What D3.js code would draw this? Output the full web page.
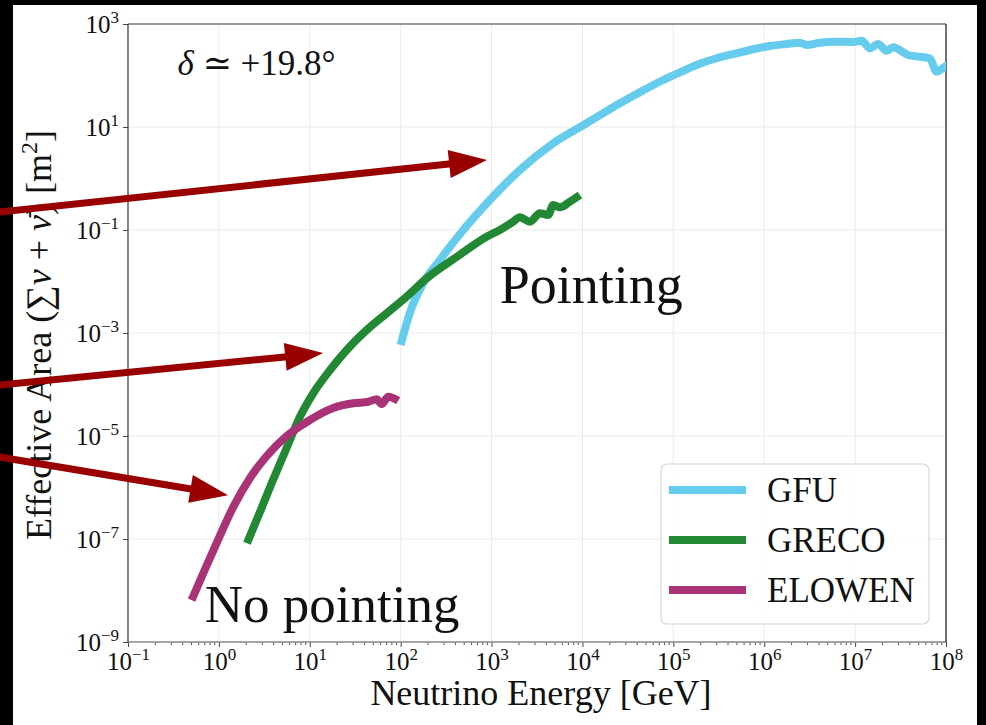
<!DOCTYPE html>
<html>
<head>
<meta charset="utf-8">
<script src="https://cdn.jsdelivr.net/npm/d3@7"></script>
<style>
  body { margin: 0; background: #000; }
  svg { display: block; }
</style>
</head>
<body>
<svg id="chart" width="986" height="725"></svg>
<script>
// energies in GeV, effective areas in m^2
var gfuEnergy = [100, 126, 177, 270, 488, 959, 2050, 4770, 1.11e4, 2.58e4, 3.94e4, 7.74e4, 1.18e5, 1.80e5,
  2.99e5, 4.97e5, 7.57e5, 1.15e6, 1.76e6, 2.47e6, 2.92e6, 4.09e6, 6.25e6, 9.51e6, 1.18e7, 1.45e7, 1.79e7,
  2.22e7, 2.62e7, 3.83e7, 6.64e7, 7.87e7, 9.7e7, 1.05e8];
var gfuArea = [5.85e-4, 2.44e-3, 9.2e-3, 2.61e-2, 0.100, 0.383, 1.46, 4.84, 11.8, 28.8, 43.7, 81.8, 115, 160,
  216, 270, 323, 374, 409, 434, 391, 434, 453, 447, 474, 337, 409,
  303, 353, 250, 216, 119, 148, 160];

var grecoEnergy = [2.04, 2.83, 3.94, 5.33, 7.80, 10.9, 16.7, 25.5, 42.3, 70.1, 116, 193, 416, 883,
  1236, 1734, 2051, 2642, 3404, 4198, 4764, 5649, 7278, 9376];
var grecoArea = [8.3e-8, 3.34e-7, 1.40e-6, 4.89e-6, 2.37e-5, 6.75e-5, 1.91e-4, 4.68e-4, 1.14e-3, 2.41e-3,
  5.07e-3, 1.15e-2, 3.02e-2, 7.41e-2, 0.100, 0.145, 0.177, 0.145, 0.211, 0.195, 0.305, 0.276, 0.355, 0.479];

var elowenEnergy = [0.501, 0.673, 0.946, 1.44, 2.20, 3.36, 5.57, 9.25, 18.1, 30.1, 44.0, 54.4, 61.8, 73.0, 94.0];
var elowenArea = [6.5e-9, 2.16e-8, 8.4e-8, 4.18e-7, 1.53e-6, 4.09e-6, 1.0e-5, 1.87e-5, 3.5e-5, 4.31e-5,
  4.63e-5, 5.16e-5, 4.18e-5, 5.79e-5, 4.85e-5];

var seriesNames = ["GFU", "GRECO", "ELOWEN"];
var seriesColors = ["#66CCEE", "#228833", "#AA3377"];

var xTickValues = [1e-1, 1e0, 1e1, 1e2, 1e3, 1e4, 1e5, 1e6, 1e7, 1e8];
var xTickExps = ["−1", "0", "1", "2", "3", "4", "5", "6", "7", "8"];
var yTickValues = [1e3, 1e1, 1e-1, 1e-3, 1e-5, 1e-7, 1e-9];
var yTickExps = ["3", "1", "−1", "−3", "−5", "−7", "−9"];

// annotation arrows: [tailEnergy, tailArea, tipEnergy, tipArea]
var arrows = [
  [2.0e-3, 0.197, 891, 2.29],
  [2.0e-3, 8.7e-5, 14.0, 4.07e-4],
  [2.0e-3, 4.74e-6, 1.26, 7.1e-7]
];
var annotations = [
  { text: "Pointing", energy: 1.23e3, area: 3.8e-3, size: 54 },
  { text: "No pointing", energy: 0.70, area: 2.45e-9, size: 53 }
];

var margin = { top: 24, right: 40, bottom: 83, left: 128 };
var width = 986 - margin.left - margin.right,
    height = 725 - margin.top - margin.bottom;
var font = "'Liberation Serif', 'DejaVu Serif', serif";

var svg = d3.select("#chart");
svg.append("rect").attr("x", 13).attr("y", 5).attr("width", 964).attr("height", 720).attr("fill", "#fff");

var g = svg.append("g").attr("transform", "translate(" + margin.left + "," + margin.top + ")");

var x = d3.scaleLog().domain([1e-1, 1e8]).range([0, width]);
var y = d3.scaleLog().domain([1e-9, 1e3]).range([height, 0]);

// grid
g.append("g").selectAll("line").data(xTickValues.slice(1, -1)).join("line")
  .attr("x1", d => x(d)).attr("x2", d => x(d)).attr("y1", 0).attr("y2", height)
  .attr("stroke", "#ebebeb").attr("stroke-width", 1);
g.append("g").selectAll("line").data(yTickValues.slice(1, -1)).join("line")
  .attr("x1", 0).attr("x2", width).attr("y1", d => y(d)).attr("y2", d => y(d))
  .attr("stroke", "#ebebeb").attr("stroke-width", 1);

// minor x ticks
var minorX = [];
for (var e = -1; e < 8; e++) {
  for (var m = 2; m < 10; m++) minorX.push(m * Math.pow(10, e));
}
g.append("g").selectAll("line").data(minorX).join("line")
  .attr("x1", d => x(d)).attr("x2", d => x(d)).attr("y1", height).attr("y2", height + 3)
  .attr("stroke", "#555").attr("stroke-width", 1);

// axes
var xAxis = g.append("g").attr("transform", "translate(0," + height + ")")
  .call(d3.axisBottom(x).tickValues(xTickValues).tickSize(5).tickPadding(6).tickFormat(""));
var yAxis = g.append("g")
  .call(d3.axisLeft(y).tickValues(yTickValues).tickSize(5).tickPadding(4).tickFormat(""));
xAxis.select(".domain").remove();
yAxis.select(".domain").remove();
xAxis.selectAll(".tick line").attr("stroke", "#444");
yAxis.selectAll(".tick line").attr("stroke", "#444");

xAxis.selectAll(".tick text").each(function (d, i) {
  var t = d3.select(this).attr("font-family", font).attr("font-size", 25).attr("fill", "#111")
    .attr("y", 28).attr("dy", 0);
  t.append("tspan").text("10");
  t.append("tspan").attr("dy", -10).attr("font-size", 17).text(xTickExps[i]);
});
yAxis.selectAll(".tick text").each(function (d, i) {
  var t = d3.select(this).attr("font-family", font).attr("font-size", 25).attr("fill", "#111")
    .attr("dy", 8);
  t.append("tspan").text("10");
  t.append("tspan").attr("dy", -10).attr("font-size", 17).text(yTickExps[i]);
});

// spines
g.append("line").attr("x1", 0).attr("x2", width).attr("y1", 0).attr("y2", 0).attr("stroke", "#777").attr("stroke-width", 1.6);
g.append("line").attr("x1", 0).attr("x2", width).attr("y1", height).attr("y2", height).attr("stroke", "#888").attr("stroke-width", 1.6);
g.append("line").attr("x1", 0).attr("x2", 0).attr("y1", 0).attr("y2", height).attr("stroke", "#333").attr("stroke-width", 1.2);
g.append("line").attr("x1", width).attr("x2", width).attr("y1", 0).attr("y2", height).attr("stroke", "#111").attr("stroke-width", 1.2);

// curves
svg.append("defs").append("clipPath").attr("id", "plotclip")
  .append("rect").attr("width", width).attr("height", height);

var seriesData = [
  d3.zip(gfuEnergy, gfuArea),
  d3.zip(grecoEnergy, grecoArea),
  d3.zip(elowenEnergy, elowenArea)
];
var line = d3.line().x(d => x(d[0])).y(d => y(d[1])).curve(d3.curveMonotoneX);
g.append("g").attr("clip-path", "url(#plotclip)")
  .selectAll("path").data(seriesData).join("path")
  .attr("d", line)
  .attr("fill", "none")
  .attr("stroke", (d, i) => seriesColors[i])
  .attr("stroke-width", 8)
  .attr("stroke-linejoin", "round")
  .attr("stroke-linecap", "butt");

// declination label
var dl = g.append("text").attr("x", x(0.35)).attr("y", y(102))
  .attr("font-family", font).attr("font-size", 35).attr("fill", "#111");
dl.append("tspan").attr("font-style", "italic").text("δ");
dl.append("tspan").text(" ≃ +19.8°");

// pointing labels
g.selectAll(".annot").data(annotations).join("text")
  .attr("class", "annot")
  .attr("x", d => x(d.energy)).attr("y", d => y(d.area))
  .attr("font-family", font).attr("font-size", d => d.size).attr("fill", "#111")
  .text(d => d.text);

// legend
var legend = g.append("g").attr("transform", "translate(" + (661 - margin.left) + "," + (464 - margin.top) + ")");
legend.append("rect").attr("width", 268).attr("height", 160).attr("rx", 6)
  .attr("fill", "#fff").attr("fill-opacity", 0.85).attr("stroke", "#d6d6d6").attr("stroke-width", 1.2);
var li = legend.selectAll(".li").data(seriesNames).join("g")
  .attr("transform", (d, i) => "translate(0," + (26 + i * 50) + ")");
li.append("line").attr("x1", 8).attr("x2", 85).attr("stroke", (d, i) => seriesColors[i]).attr("stroke-width", 8);
li.append("text").attr("x", 106).attr("y", 12).attr("font-family", font).attr("font-size", 35).attr("fill", "#111")
  .text(d => d);

// axis labels
g.append("text").attr("x", width / 2 + 4).attr("y", 705 - margin.top).attr("text-anchor", "middle")
  .attr("font-family", font).attr("font-size", 36).attr("fill", "#111")
  .text("Neutrino Energy [GeV]");
var yl = g.append("text").attr("transform", "translate(" + (51 - margin.left) + "," + (335 - margin.top) + ") rotate(-90)")
  .attr("text-anchor", "middle").attr("font-family", font).attr("font-size", 36).attr("fill", "#111");
yl.append("tspan").text("Effective Area (");
yl.append("tspan").text("∑");
yl.append("tspan").attr("font-style", "italic").text("ν");
yl.append("tspan").text(" + ");
yl.append("tspan").attr("font-style", "italic").text("ν\u0304");
yl.append("tspan").text(") [m");
yl.append("tspan").attr("dy", -14).attr("font-size", 24).text("2");
yl.append("tspan").attr("dy", 14).text("]");

// arrows
var arrowG = g.append("g");
arrows.forEach(function (a) {
  var x0 = x(a[0]), y0 = y(a[1]), x1 = x(a[2]), y1 = y(a[3]);
  var ang = Math.atan2(y1 - y0, x1 - x0);
  var headLen = 38, headHalf = 14;
  var bx = x1 - headLen * Math.cos(ang), by = y1 - headLen * Math.sin(ang);
  arrowG.append("line").attr("x1", x0).attr("y1", y0).attr("x2", bx + 2 * Math.cos(ang)).attr("y2", by + 2 * Math.sin(ang))
    .attr("stroke", "#990000").attr("stroke-width", 7);
  var px = -Math.sin(ang) * headHalf, py = Math.cos(ang) * headHalf;
  arrowG.append("path")
    .attr("d", d3.line()([[x1, y1], [bx + px, by + py], [bx - px, by - py]]) + "Z")
    .attr("fill", "#990000");
});
</script>
</body>
</html>
